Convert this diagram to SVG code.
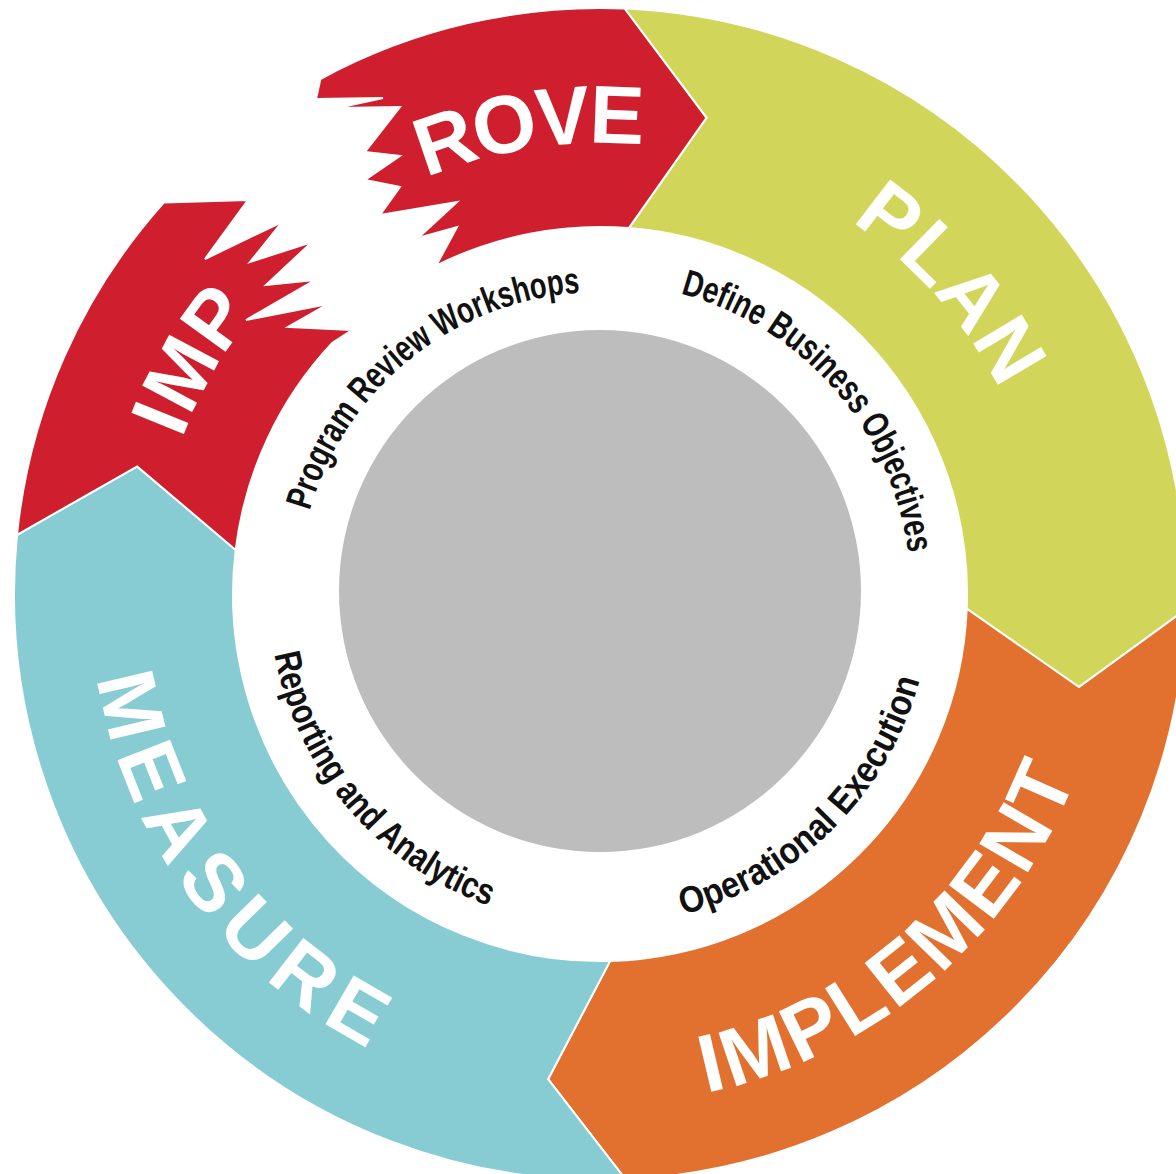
<svg xmlns="http://www.w3.org/2000/svg" width="1176" height="1174" viewBox="0 0 1176 1174">
  <style>
    .seg { stroke: #ffffff; stroke-width: 2; stroke-linejoin: miter; }
    .red { fill: #cf1e2d; }
    .green { fill: #d1d65b; }
    .orange { fill: #e2702e; }
    .blue { fill: #87ccd3; }
    .big { font-family: "Liberation Sans", Arial, sans-serif; font-weight: bold; font-size: 82px; fill: #ffffff; }
    .small { font-family: "Liberation Sans", Arial, sans-serif; font-weight: bold; font-size: 37px; fill: #111111; }
  </style>
  <defs>
    <path id="p-rove" d="M 426.0 177.9 A 451 451 0 0 1 643.2 145.1"/>
    <path id="p-imp" d="M 181.8 439.1 A 445 445 0 0 1 254.0 313.9"/>
    <path id="p-plan" d="M 851.1 221.8 A 449 449 0 0 1 1000.1 390.2"/>
    <path id="p-implement" d="M 706.0 1092.9 A 510 510 0 0 0 1076.1 776.8"/>
    <path id="p-measure" d="M 97.0 678.2 A 510 510 0 0 0 368.5 1048.4"/>
    <path id="p-program" d="M 309.7 510.8 A 302 302 0 0 1 580.0 292.7"/>
    <path id="p-define" d="M 680.5 293.6 A 311 311 0 0 1 908.3 553.4"/>
    <path id="p-operational" d="M 682.9 914.5 A 331 331 0 0 0 919.7 679.7"/>
    <path id="p-reporting" d="M 274.5 654.3 A 331 331 0 0 0 489.5 906.0"/>
  </defs>
  <rect x="0" y="0" width="1176" height="1174" fill="#ffffff"/>

  <g id="center">
    <circle cx="600" cy="591" r="261" fill="#bdbdbd"/>
  </g>

  <g id="plan">
    <path class="seg green" d="M 624.5 8.5 A 586 586 0 0 1 1185.8 609.3 L 1079.0 687.1 L 966.7 608.7 A 367 367 0 0 0 628.8 228.1 L 706.5 117.8 Z"/>
    <text class="big"><textPath href="#p-plan" textLength="227" lengthAdjust="spacing">PLAN</textPath></text>
    <text class="small"><textPath href="#p-define" textLength="366" lengthAdjust="spacingAndGlyphs">Define Business Objectives</textPath></text>
  </g>

  <g id="implement">
    <path class="seg orange" d="M 1185.8 609.3 A 586 586 0 0 1 625.6 1179.4 L 548.1 1079.2 L 610.2 960.9 A 367 367 0 0 0 966.7 608.7 L 1079.0 687.1 Z"/>
    <text class="big"><textPath href="#p-implement" textLength="507" lengthAdjust="spacing">IMPLEMENT</textPath></text>
    <text class="small"><textPath href="#p-operational" textLength="349" lengthAdjust="spacingAndGlyphs">Operational Execution</textPath></text>
  </g>

  <g id="measure">
    <path class="seg blue" d="M 625.6 1179.4 A 586 586 0 0 1 17.0 534.8 L 137.2 466.5 L 235.7 549.9 A 367 367 0 0 0 610.2 960.9 L 548.1 1079.2 Z"/>
    <text class="big"><textPath href="#p-measure" textLength="476" lengthAdjust="spacing">MEASURE</textPath></text>
    <text class="small"><textPath href="#p-reporting" textLength="346" lengthAdjust="spacingAndGlyphs">Reporting and Analytics</textPath></text>
  </g>

  <g id="improve">
    <path class="seg red" d="M 17.0 534.8 A 586 586 0 0 1 163.8 202.6 L 248 200 L 205 259 L 282 222 L 250 262 L 312 242 L 266 285 L 315 280 L 246 320 L 328 304 L 288 327 L 352 330 L 332.5 342.8 A 367 367 0 0 0 235.7 549.9 L 137.2 466.5 Z"/>
    <path class="seg red" d="M 320.4 79.0 A 586 586 0 0 1 624.5 8.5 L 706.5 117.8 L 628.8 228.1 A 367 367 0 0 0 436.2 265.6 L 457 227 L 418 238 L 457 202 L 380 215 L 400 187 L 365 180 L 400 156 L 365 152 L 400 107 L 337 108 L 383 98 L 316 99 Z"/>
    <text class="big"><textPath href="#p-imp" textLength="147" lengthAdjust="spacing">IMP</textPath></text>
    <text class="big"><textPath href="#p-rove" textLength="222" lengthAdjust="spacing">ROVE</textPath></text>
    <text class="small"><textPath href="#p-program" textLength="370" lengthAdjust="spacingAndGlyphs">Program Review Workshops</textPath></text>
  </g>

  <g id="connectors"/>
</svg>
